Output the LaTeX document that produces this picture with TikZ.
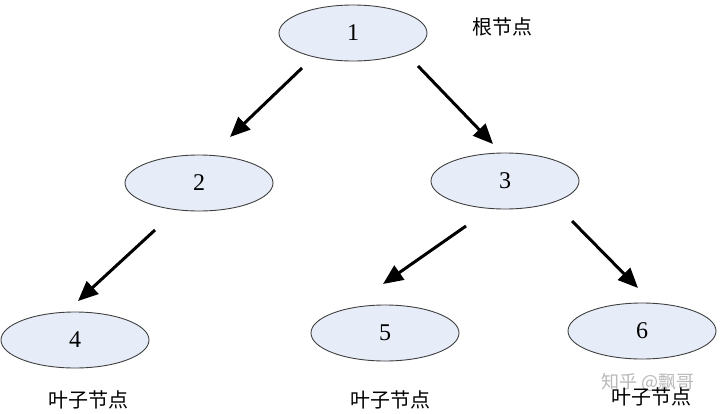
\documentclass[tikz,border=0pt]{standalone}
\usepackage{fontspec}
\setmainfont{Liberation Serif}
\newfontfamily\cjk{Noto Sans CJK SC}
\usetikzlibrary{shapes.geometric,arrows.meta}
\definecolor{nodefill}{HTML}{E6ECF8}
\definecolor{nodeline}{HTML}{404040}
\tikzset{
  treenode/.style={ellipse,draw=nodeline,fill=nodefill,line width=0.9pt,minimum width=148pt,minimum height=56pt,inner sep=0pt,font=\fontsize{24}{24}\selectfont},
  lbl/.style={font=\cjk\fontsize{20}{20}\selectfont,inner sep=0pt},
  edge/.style={line width=3pt,-{Triangle[length=20pt,width=17pt]}}
}
\begin{document}
\begin{tikzpicture}[x=1pt,y=-1pt]
\useasboundingbox[fill=white] (0,0) rectangle (720,413);
\node[treenode] (n1) at (353,33) {1};
\node[treenode] (n2) at (199,183) {2};
\node[treenode] (n3) at (505,181) {3};
\node[treenode] (n4) at (75,340) {4};
\node[treenode] (n5) at (385,333) {5};
\node[treenode] (n6) at (642,331) {6};
\coordinate (a1s) at (302,68);  \coordinate (a1e) at (230,137);
\coordinate (a2s) at (418,66);  \coordinate (a2e) at (493,144);
\coordinate (a3s) at (155,230); \coordinate (a3e) at (78,301);
\coordinate (a4s) at (466,226); \coordinate (a4e) at (383,284);
\coordinate (a5s) at (572,221); \coordinate (a5e) at (638,288);
\draw[edge] (a1s) -- (a1e);
\draw[edge] (a2s) -- (a2e);
\draw[edge] (a3s) -- (a3e);
\draw[edge] (a4s) -- (a4e);
\draw[edge] (a5s) -- (a5e);
\node[lbl] (root) at (502,27) {根节点};
\node[lbl] (leaf4) at (88,400) {叶子节点};
\node[lbl] (leaf5) at (390,400) {叶子节点};
\node[lbl,text=gray!55,font=\cjk\fontsize{18}{18}\selectfont] (wm) at (648,382) {知乎 @飘哥};
\node[lbl] (leaf6) at (651,397) {叶子节点};
\end{tikzpicture}
\end{document}
